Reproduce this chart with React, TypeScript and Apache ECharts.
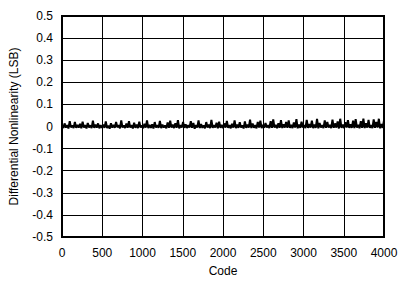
import React, { useEffect, useRef } from "react";
import * as echarts from "echarts";

const xTicks = [0, 500, 1000, 1500, 2000, 2500, 3000, 3500, 4000];
const yTicks = [-0.5, -0.4, -0.3, -0.2, -0.1, 0, 0.1, 0.2, 0.3, 0.4, 0.5];
const codeStep = 16;
const dnl = [
  0.004,-0.007,0.014,-0.005,0.006,-0.009,0.024,-0.004,0.005,-0.007,0.020,-0.006,0.007,-0.005,0.012,-0.008,
  0.022,-0.005,0.006,-0.009,0.016,-0.004,0.005,-0.007,0.026,-0.006,0.008,-0.005,0.014,-0.008,0.006,-0.006,
  0.009,-0.006,0.023,-0.007,0.004,-0.010,0.015,-0.005,0.007,-0.006,0.021,-0.004,0.006,-0.008,0.027,-0.005,
  0.005,-0.007,0.013,-0.006,0.024,-0.005,0.006,-0.009,0.017,-0.006,0.008,-0.007,0.022,-0.005,0.005,-0.008,
  0.012,-0.005,0.028,-0.007,0.007,-0.006,0.010,-0.009,0.020,-0.005,0.006,-0.006,0.025,-0.007,0.009,-0.005,
  0.005,-0.008,0.018,-0.006,0.026,-0.005,0.008,-0.007,0.015,-0.006,0.029,-0.008,0.006,-0.005,0.021,-0.006,
  0.010,-0.007,0.006,-0.005,0.024,-0.006,0.016,-0.010,0.007,-0.005,0.027,-0.007,0.011,-0.006,0.005,-0.008,
  0.020,-0.005,0.009,-0.007,0.030,-0.006,0.006,-0.005,0.017,-0.008,0.022,-0.006,0.007,-0.007,0.014,-0.005,
  0.025,-0.006,0.006,-0.008,0.012,-0.005,0.028,-0.007,0.008,-0.006,0.019,-0.005,0.005,-0.009,0.023,-0.006,
  0.009,-0.005,0.031,-0.007,0.014,-0.006,0.006,-0.008,0.021,-0.005,0.026,-0.007,0.007,-0.006,0.016,-0.005,
  0.006,-0.007,0.024,-0.006,0.032,-0.005,0.008,-0.008,0.015,-0.006,0.029,-0.007,0.010,-0.005,0.020,-0.006,
  0.027,-0.006,0.007,-0.007,0.018,-0.005,0.033,-0.008,0.009,-0.006,0.022,-0.005,0.006,-0.007,0.030,-0.006,
  0.011,-0.005,0.026,-0.007,0.008,-0.006,0.034,-0.008,0.016,-0.005,0.006,-0.007,0.028,-0.006,0.021,-0.005,
  0.007,-0.007,0.031,-0.006,0.014,-0.005,0.023,-0.009,0.035,-0.006,0.009,-0.007,0.019,-0.005,0.029,-0.006,
  0.010,-0.006,0.026,-0.007,0.033,-0.005,0.008,-0.008,0.024,-0.006,0.036,-0.007,0.015,-0.005,0.030,-0.006,
  0.006,-0.007,0.032,-0.006,0.021,-0.005,0.035,-0.008,0.011,-0.006,0.028,-0.007,0.034,-0.005,0.017,-0.007,
];

const FONT = "Liberation Sans, Arial, sans-serif";

export default function App() {
  const ref = useRef<HTMLDivElement>(null);
  useEffect(() => {
    if (!ref.current) return;
    const chart = echarts.init(ref.current, undefined, { renderer: "svg" });
    const data = dnl.map((v, i) => [i * codeStep, v]);
    chart.setOption({
      animation: false,
      backgroundColor: "#fff",
      grid: {
        left: 62, right: 22, top: 16, bottom: 50,
        show: true, borderColor: "#000", borderWidth: 2,
      },
      xAxis: {
        type: "value",
        min: xTicks[0], max: xTicks[xTicks.length - 1], interval: 500,
        name: "Code", nameLocation: "middle", nameGap: 28,
        nameTextStyle: { color: "#000", fontSize: 12, fontFamily: FONT },
        axisLine: { show: false },
        axisTick: { show: false },
        axisLabel: {
          color: "#000", fontSize: 12, fontFamily: FONT, margin: 10,
          formatter: (v: number) => String(v),
        },
        splitLine: { show: true, lineStyle: { color: "#000", width: 1 } },
      },
      yAxis: {
        type: "value",
        min: yTicks[0], max: yTicks[yTicks.length - 1], interval: 0.1,
        name: "Differential Nonlinearity (LSB)", nameLocation: "middle", nameGap: 42,
        nameTextStyle: { color: "#000", fontSize: 12, fontFamily: FONT },
        axisLine: { show: false },
        axisTick: { show: false },
        axisLabel: {
          color: "#000", fontSize: 12, fontFamily: FONT, margin: 9,
          formatter: (v: number) => String(Math.round(v * 10) / 10),
        },
        splitLine: { show: true, lineStyle: { color: "#000", width: 1 } },
      },
      series: [
        {
          type: "line",
          data,
          showSymbol: false,
          symbol: "none",
          lineStyle: { color: "#000", width: 2 },
          clip: true,
        },
      ],
    });
    return () => chart.dispose();
  }, []);
  return <div ref={ref} style={{ width: 406, height: 287, margin: -8 }} />;
}
